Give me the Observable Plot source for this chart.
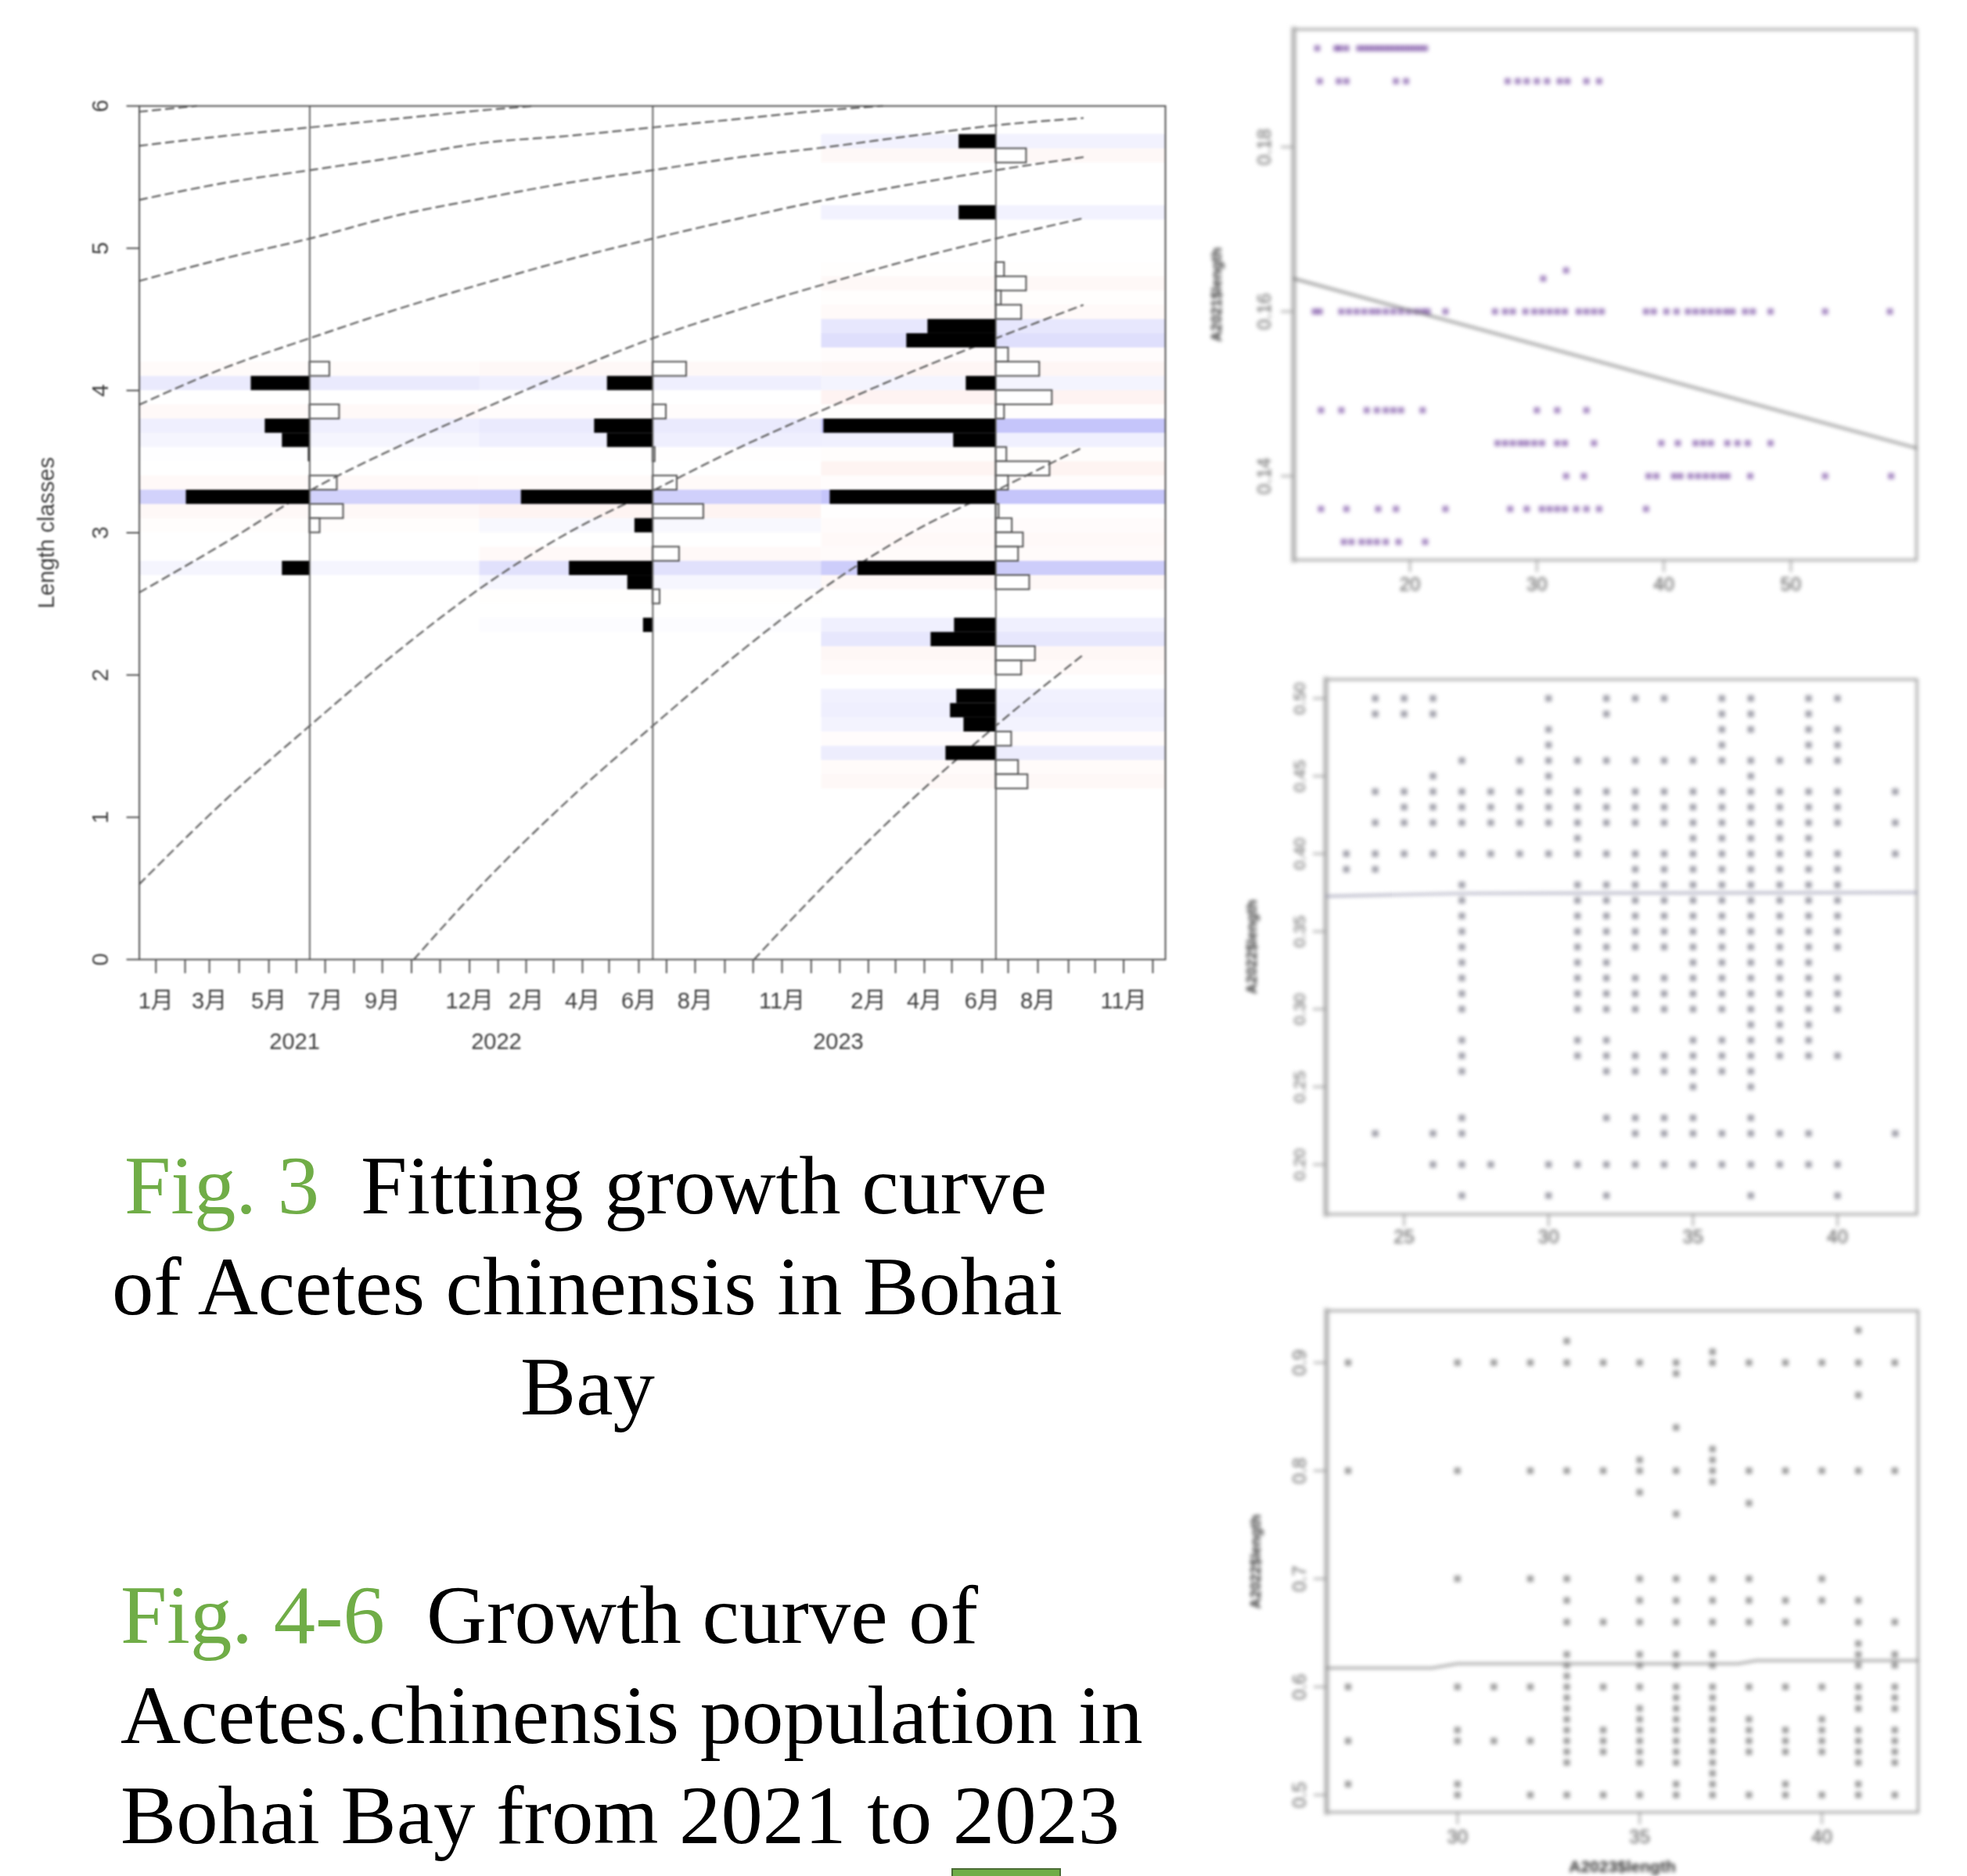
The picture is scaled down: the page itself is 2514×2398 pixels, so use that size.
<!DOCTYPE html>
<html>
<head>
<meta charset="utf-8">
<script src="https://cdn.jsdelivr.net/npm/d3@7"></script>
<script src="https://cdn.jsdelivr.net/npm/@observablehq/plot@0.6"></script>
<style>
html,body{margin:0;padding:0;background:#fff;}
#page{position:relative;width:2514px;height:2398px;overflow:hidden;background:#fff;}
#page>svg{position:absolute;}
.cap{position:absolute;font-family:"Liberation Serif",serif;font-size:106.7px;line-height:128px;white-space:nowrap;color:#000;}
.fig{color:#70ad47;}
</style>
</head>
<body>
<div id="page"></div>
<script>
// ---------- Fig. 3: month axis (months since Jan 2021) ----------
const monthTicks = [0.58,1.6,2.45,3.49,4.53,5.49,6.5,7.51,8.5,9.52,10.52,11.55,12.55,13.53,14.49,15.5,16.43,17.47,18.44,19.44,20.48,21.47,22.48,23.5,24.5,25.5,26.45,27.46,28.42,29.48,30.39,31.43,32.5,33.43,34.43,35.45];
const monthLabelAt = [0.58,2.45,4.53,6.5,8.5,11.55,13.53,15.5,17.47,19.44,22.48,25.5,27.46,29.48,31.43,34.43];
const monthLabels = ["1月","3月","5月","7月","9月","12月","2月","4月","6月","8月","11月","2月","4月","6月","8月","11月"];
const yearAt = [5.43,12.49,24.45];
const yearLabels = ["2021","2022","2023"];
const sampleDates = [5.96,17.96,29.96];
const groupEdges = [0,11.9,23.86,35.89];

// ---------- Fig. 3: restructured scores per length class (+ black, - white) ----------
const classes2021 = [4.15,4.05,3.85,3.75,3.65,3.55,3.35,3.25,3.15,3.05,2.75];
const scores2021 = [-0.70,2.05,-1.04,1.56,0.96,0.05,-0.96,4.32,-1.18,-0.36,0.96];
const classes2022 = [4.15,4.05,3.85,3.75,3.65,3.55,3.35,3.25,3.15,3.05,2.85,2.75,2.65,2.55,2.35];
const scores2022 = [-1.18,1.59,-0.47,2.04,1.59,-0.08,-0.85,4.6,-1.78,0.63,-0.93,2.92,0.88,-0.25,0.33];
const classes2023 = [5.75,5.65,5.25,4.85,4.75,4.65,4.55,4.45,4.35,4.25,4.15,4.05,3.95,3.85,3.75,3.65,3.55,3.45,3.35,3.25,3.15,3.05,2.95,2.85,2.75,2.65,2.35,2.25,2.15,2.05,1.85,1.75,1.65,1.55,1.45,1.35,1.25];
const scores2023 = [1.29,-1.07,1.29,-0.30,-1.07,-0.19,-0.90,2.38,3.12,-0.44,-1.53,1.04,-1.97,-0.30,6.02,1.48,-0.38,-1.89,-0.44,5.80,-0.11,-0.57,-0.96,-0.79,4.83,-1.18,1.45,2.27,-1.38,-0.90,1.37,1.59,1.12,-0.55,1.75,-0.79,-1.12];

// ---------- Fig. 3: growth curves, read every three months ----------
const curveMonths = [0,3,6,9,12,15,18,21,24,27,30,33];
const cohortA = [0.53,1.12,1.65,2.16,2.62,3.0,3.3,3.6,3.87,4.13,4.37,4.6];
const cohortB = [2.58,2.93,3.3,3.6,3.87,4.13,4.37,4.57,4.75,4.92,5.07,5.21];
const cohortC = [3.9,4.16,4.37,4.57,4.75,4.92,5.07,5.21,5.34,5.45,5.55,5.64];
const cohortD = [4.77,4.93,5.07,5.23,5.35,5.46,5.55,5.64,5.71,5.79,5.865,5.915];
const cohortEMonths = [0,3,6,9,12,15,18,21,24,26];
const cohortE = [5.34,5.46,5.55,5.64,5.74,5.79,5.85,5.91,5.97,6.0];
const cohortFMonths = [0,3,6,9,12,13.8];
const cohortF = [5.72,5.79,5.85,5.91,5.97,6.0];
const cohortGMonths = [0,2];
const cohortG = [5.96,6.0];
const cohortHMonths = [9.6,12,15,18,21,24,27,30,33];
const cohortH = [0,0.53,1.12,1.65,2.16,2.62,3.0,3.3,3.6];
const cohortIMonths = [21.5,24,27,30,33];
const cohortI = [0,0.53,1.12,1.65,2.14];

const lengthTicks = [0,1,2,3,4,5,6];

// ---------- Fig. 4: rows of points [y, xs] ----------
const fig4Rows = [
 [0.192,[12.7,14.2,14.5,15,16,16.4,16.8,17.2,17.6,18,18.4,18.8,19.2,19.6,20,20.4,20.8,21.2]],
 [0.188,[12.9,14.4,15,18.9,19.7,27.7,28.5,29.2,30,30.8,31.8,32.4,33.9,34.9]],
 [0.165,[32.3]],
 [0.164,[30.5]],
 [0.16,[12.5,12.9,14.6,15.2,15.8,16.4,17,17.5,18.1,18.7,19.3,19.9,20.5,21,21.4,22.8,26.7,27.5,28.1,29.1,29.8,30.4,31,31.6,32.2,33.3,33.9,34.5,35.1,38.6,39.2,40.2,41,41.9,42.5,43.1,43.7,44.3,44.9,45.4,46.4,47,48.4,52.7,57.8]],
 [0.148,[13,14.6,16.6,17.4,18.1,18.7,19.3,21,30,31.6,33.9]],
 [0.144,[26.9,27.5,28.1,28.7,29.2,29.8,30.4,31.6,32.2,34.5,39.8,41.1,42.5,43.1,43.7,45,45.8,46.6,48.4]],
 [0.14,[32.3,33.7,38.8,39.4,40.8,41.3,42.1,42.7,43.3,43.9,44.5,45,46.8,52.7,57.9]],
 [0.136,[13,15,17.5,18.9,22.8,27.9,29.2,30.4,31,31.6,32.2,33.1,33.9,34.9,38.6]],
 [0.132,[14.8,15.4,16.2,16.8,17.4,18.1,19.1,21.2]]
];
const fig4LineX = [10.85,59.9];
const fig4LineY = [0.164,0.1434];

// ---------- Fig. 5 ----------
const fig5Rows = [
 [0.50,[24,25,26,30,32,33,34,36,37,39,40]],
 [0.49,[24,25,26,32,36,37,39]],
 [0.48,[30,36,37,39,40]],
 [0.47,[30,36,39,40]],
 [0.46,[27,29,30,31,32,33,34,35,36,37,38,39,40]],
 [0.45,[26,30,37]],
 [0.44,[24,25,26,27,28,29,30,31,32,33,34,35,36,37,38,39,40,42]],
 [0.43,[25,26,27,28,29,30,31,32,33,34,35,36,37,38,39,40]],
 [0.42,[24,25,26,27,28,29,30,31,32,33,34,35,36,37,38,39,40,42]],
 [0.41,[31,35,36,37,38,39]],
 [0.40,[23,24,25,26,27,28,29,30,31,32,33,34,35,36,37,38,39,40,42]],
 [0.39,[23,24,33,34,35,36,37,38,39,40]],
 [0.38,[27,31,32,33,34,35,36,37,38,39,40]],
 [0.37,[27,31,32,33,34,35,36,37,38,39,40]],
 [0.36,[27,31,32,33,34,35,36,37,38,39,40]],
 [0.35,[27,31,32,33,34,35,36,37,38,39,40]],
 [0.34,[27,31,32,33,34,35,36,37,38,39,40]],
 [0.33,[27,31,32,35,36,37,38,39]],
 [0.32,[27,31,32,33,34,35,36,37,38,39,40]],
 [0.31,[27,31,32,33,34,35,36,37,38,39,40]],
 [0.30,[27,31,32,33,34,35,36,37,38,39,40]],
 [0.29,[37,38,39]],
 [0.28,[27,31,32,35,36,37,38,39]],
 [0.27,[27,31,32,33,34,35,36,37,38,39,40]],
 [0.26,[27,32,33,34,35,36,37]],
 [0.25,[35,37]],
 [0.23,[27,32,33,34,35,37]],
 [0.22,[24,26,27,33,34,35,36,37,38,39,42]],
 [0.20,[26,27,28,30,31,32,33,34,35,36,37,38,39,40]],
 [0.18,[27,30,32,37,40]]
];
const fig5LineX = [22.29,27,42.75];
const fig5LineY = [0.3727,0.3745,0.3751];

// ---------- Fig. 6 ----------
const fig6Rows = [
 [0.93,[41]],
 [0.92,[33]],
 [0.91,[37]],
 [0.90,[27,30,31,32,33,34,35,36,37,38,39,40,41,42]],
 [0.89,[36]],
 [0.87,[41]],
 [0.84,[36]],
 [0.82,[37]],
 [0.81,[35,37]],
 [0.80,[27,30,32,33,34,35,36,37,38,39,40,41,42]],
 [0.79,[37]],
 [0.78,[35]],
 [0.77,[38]],
 [0.76,[36]],
 [0.70,[30,32,33,35,36,37,38,40]],
 [0.68,[33,35,36,37,38,39,40,41]],
 [0.66,[33,34,35,36,37,38,39,41,42]],
 [0.64,[41]],
 [0.63,[33,35,36,37,41,42]],
 [0.62,[33,35,36,37,41,42]],
 [0.61,[33]],
 [0.60,[27,30,31,32,33,34,35,36,37,38,39,40,41,42]],
 [0.59,[33,36,37,41,42]],
 [0.58,[33,35,36,37,41,42]],
 [0.57,[33,35,36,37,38,40]],
 [0.56,[30,33,34,35,36,37,38,39,40,41,42]],
 [0.55,[27,30,31,32,33,34,35,36,37,38,39,40,41,42]],
 [0.54,[33,34,35,36,37,38,39,40,41,42]],
 [0.53,[33,35,36,37,41,42]],
 [0.52,[37]],
 [0.51,[27,30,36,37,39,41]],
 [0.50,[30,32,33,34,35,36,37,38,39,40,41,42]]
];
const fig6LineX = [26.41,29.3,30,37.7,38.2,42.64];
const fig6LineY = [0.6175,0.6175,0.6215,0.6215,0.6243,0.6243];

// ---------- Build tables ----------
const page = document.getElementById("page");
const SANS = '"Liberation Sans","Noto Sans CJK SC",sans-serif';
const toSample = (classes, scores, i) => classes.map((c, k) => ({c, s: scores[k], at: sampleDates[i], from: groupEdges[i], to: groupEdges[i + 1]}));
const bins = [...toSample(classes2021, scores2021, 0), ...toSample(classes2022, scores2022, 1), ...toSample(classes2023, scores2023, 2)];
const toCurve = (id, xs, ys) => xs.map((x, k) => ({id, x, y: ys[k]}));
const curves = [
  ...toCurve("a", curveMonths, cohortA), ...toCurve("b", curveMonths, cohortB),
  ...toCurve("c", curveMonths, cohortC), ...toCurve("d", curveMonths, cohortD),
  ...toCurve("e", cohortEMonths, cohortE), ...toCurve("f", cohortFMonths, cohortF),
  ...toCurve("g", cohortGMonths, cohortG), ...toCurve("h", cohortHMonths, cohortH),
  ...toCurve("i", cohortIMonths, cohortI)
];
const bandColor = (s) => s > 0 ? `rgba(40,40,235,${Math.min(0.27, 0.048 * s)})` : `rgba(240,70,40,${0.032 * -s})`;
const monthText = new Map(monthLabelAt.map((m, i) => [m, monthLabels[i]]));
const yearText = new Map(yearAt.map((m, i) => [m, yearLabels[i]]));

function place(svg, left, top, blur) {
  svg.style.left = left + "px";
  svg.style.top = top + "px";
  svg.style.filter = `blur(${blur}px)`;
  page.appendChild(svg);
}

// ---------- Fig. 3 ----------
const INK = "#404040";
const main = Plot.plot({
  width: 1500, height: 1240,
  marginLeft: 177.6, marginRight: 11, marginTop: 35, marginBottom: 114,
  x: {domain: [0, 35.89]},
  y: {domain: [0, 6]},
  color: {type: "identity"},
  style: {fontFamily: SANS, fontSize: "29px", color: "#333", background: "transparent", overflow: "visible"},
  marks: [
    Plot.rect(bins, {x1: "from", x2: "to", y1: d => d.c - 0.05, y2: d => d.c + 0.05, fill: d => bandColor(d.s)}),
    Plot.rect(bins.filter(d => d.s < 0), {x1: "at", x2: d => d.at - d.s, y1: d => d.c - 0.05, y2: d => d.c + 0.05, fill: "white", stroke: "#555", strokeWidth: 2}),
    Plot.line(curves, {x: "x", y: "y", z: "id", curve: "monotone-x", stroke: "#5c5c5c", strokeWidth: 2.2, strokeDasharray: "10,7"}),
    Plot.rect(bins.filter(d => d.s > 0), {x1: d => d.at - d.s, x2: "at", y1: d => d.c - 0.05, y2: d => d.c + 0.05, fill: "black"}),
    Plot.ruleX(sampleDates, {stroke: "#666", strokeWidth: 2}),
    Plot.frame({stroke: "#555", strokeWidth: 2}),
    Plot.axisX({ticks: monthTicks, tickSize: 18, tickPadding: 24, stroke: "#555", strokeWidth: 2, fill: INK, tickFormat: d => monthText.get(d) ?? "", label: null}),
    Plot.axisX({ticks: yearAt, tickSize: 0, tickPadding: 94, fill: INK, tickFormat: d => yearText.get(d), label: null}),
    Plot.axisY({ticks: lengthTicks, tickSize: 16, tickRotate: -90, tickPadding: 24, stroke: "#555", strokeWidth: 2, fill: INK, tickFormat: d => String(d), label: null}),
    Plot.text(["Length classes"], {frameAnchor: "left", rotate: -90, dx: -118, text: d => d, textAnchor: "middle", fill: INK, fontSize: 29})
  ]
});
place(main, 0, 100, 0.8);

// ---------- Right-hand panels ----------
const rowsToPoints = rows => rows.flatMap(([y, xs]) => xs.map(x => ({x, y})));
const asPoints = (xs, ys) => xs.map((x, k) => ({x, y: ys[k]}));

function panel(o) {
  const width = o.frame[1] - o.frame[0] + o.ml + 20;
  const height = o.frame[3] - o.frame[2] + 20 + o.mb;
  const svg = Plot.plot({
    width, height,
    marginLeft: o.ml, marginRight: 20, marginTop: 20, marginBottom: o.mb,
    x: {domain: o.xDomain},
    y: {domain: o.yDomain},
    style: {fontFamily: SANS, fontSize: "24px", color: "#444", background: "transparent"},
    marks: [
      Plot.frame({anchor: "left", stroke: "#d8d8d8", strokeWidth: 8}),
      Plot.frame({stroke: "#a4a4a4", strokeWidth: 3}),
      Plot.dot(rowsToPoints(o.rows), {x: "x", y: "y", r: o.r, fill: o.dot, fillOpacity: o.alpha, symbol: "square"}),
      Plot.line(asPoints(o.lineX, o.lineY), {x: "x", y: "y", stroke: o.lineColor, strokeWidth: 2.2}),
      Plot.axisX({ticks: o.xTicks, tickSize: 16, tickPadding: o.xPad, stroke: "#999", strokeWidth: 2, fill: "#555", tickFormat: d => String(d), label: null}),
      Plot.axisY({ticks: o.yTicks, tickSize: 16, tickRotate: -90, tickPadding: o.yPad, stroke: "#999", strokeWidth: 2, fill: "#666", fontSize: o.yFont, tickFormat: o.yFormat, label: null}),
      Plot.text([o.yLabel], {frameAnchor: "left", rotate: -90, dx: o.yOff, text: d => d, textAnchor: "middle", fill: "#333", fontSize: 18.5, fontWeight: 600}),
      o.xLabel ? Plot.text([o.xLabel], {frameAnchor: "bottom", dy: 76, text: d => d, fill: "#333", fontSize: 21, fontWeight: 600}) : null
    ]
  });
  place(svg, o.frame[0] - o.ml, o.frame[2] - 20, 2.8);
}

panel({
  frame: [1653, 2449, 36.7, 715], ml: 130, mb: 70,
  xDomain: [10.85, 59.9], yDomain: [0.1298, 0.1943],
  rows: fig4Rows, r: 4.4, dot: "#6b3a9a", alpha: 0.6,
  lineX: fig4LineX, lineY: fig4LineY, lineColor: "#666",
  xTicks: [20, 30, 40, 50], yTicks: [0.14, 0.16, 0.18], yFormat: d => d.toFixed(2), yFont: 24,
  xPad: 6, yPad: 14, yLabel: "A2021$length", yOff: -98
});
panel({
  frame: [1694, 2449.5, 868, 1551.6], ml: 130, mb: 62,
  xDomain: [22.29, 42.75], yDomain: [0.168, 0.5122],
  rows: fig5Rows, r: 4.6, dot: "#7a7a88", alpha: 0.72,
  lineX: fig5LineX, lineY: fig5LineY, lineColor: "#8f8fa8",
  xTicks: [25, 30, 35, 40], yTicks: [0.20, 0.25, 0.30, 0.35, 0.40, 0.45, 0.50], yFormat: d => d.toFixed(2), yFont: 21,
  xPad: 4, yPad: 11, yLabel: "A2022$length", yOff: -94
});
panel({
  frame: [1695, 2451, 1675, 2316], ml: 130, mb: 82,
  xDomain: [26.41, 42.64], yDomain: [0.484, 0.948],
  rows: fig6Rows, r: 4.6, dot: "#777", alpha: 0.72,
  lineX: fig6LineX, lineY: fig6LineY, lineColor: "#808080",
  xTicks: [30, 35, 40], yTicks: [0.5, 0.6, 0.7, 0.8, 0.9], yFormat: d => d.toFixed(1), yFont: 24,
  xPad: 6, yPad: 11, yLabel: "A2022$length", yOff: -90, xLabel: "A2023$length"
});

// ---------- Captions ----------
const captionParts = [
  ["Fig. 3", 159, 1551, true],
  ["Fitting growth curve", 461, 1551, false],
  ["of Acetes chinensis in Bohai", 143, 1679.5, false],
  ["Bay", 665, 1808, false],
  ["Fig. 4-6", 154, 2100, true],
  ["Growth curve of", 545, 2100, false],
  ["Acetes.chinensis population in", 154, 2228, false],
  ["Bohai Bay from 2021 to 2023", 154, 2356, false]
];
for (const [text, left, baseline, green] of captionParts) {
  const el = document.createElement("div");
  el.className = "cap" + (green ? " fig" : "");
  el.textContent = text;
  el.style.left = left + "px";
  el.style.top = (baseline - 100) + "px";
  page.appendChild(el);
}
const stub = document.createElement("div");
stub.style.cssText = "position:absolute;left:1216px;top:2388px;width:140px;height:10px;background:#70ad47;border:2px solid #4a6d34;border-bottom:none;box-sizing:border-box;";
page.appendChild(stub);
</script>
</body>
</html>
